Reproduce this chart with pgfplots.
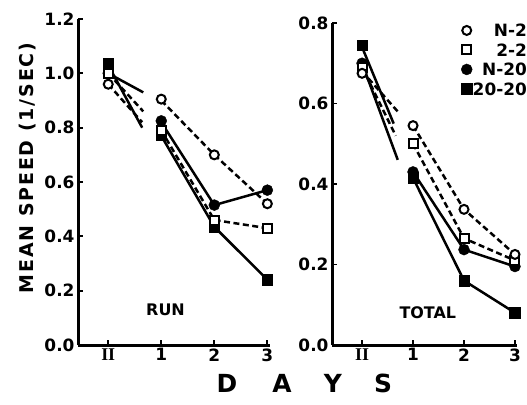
\documentclass[border=0pt]{standalone}
\usepackage{fontspec}
\setmainfont{DejaVu Sans}
\newfontfamily\spaced{DejaVu Sans}[LetterSpace=10]
\newfontfamily\serifb{Liberation Serif}
\usepackage{pgfplots}
\pgfplotsset{compat=1.18}
\pgfplotsset{
  myax/.style={scale only axis, axis lines=left,
    axis line style={-, line width=3bp},
    tick align=inside, major tick length=5bp,
    tick style={line width=1.8bp, black},
    xtick={0,1,2,3}, xticklabels={{\serifb\bfseries\fontsize{18}{18}\selectfont II},1,2,3},
    ticklabel style={font=\bfseries\fontsize{17}{17}\selectfont},
    /pgf/number format/assume math mode=true,
    y tick label style={/pgf/number format/.cd, fixed, fixed zerofill, precision=1},
    clip=false},
  ln/.style={black, line width=2.5bp},
  dsh/.style={black, line width=2.5bp, dash pattern=on 6bp off 3.5bp},
  oc/.style={only marks, mark=*, mark size=4.5bp, mark options={solid, fill=white, draw=black, line width=2bp}},
  os/.style={only marks, mark=square*, mark size=4.5bp, mark options={solid, fill=white, draw=black, line width=2bp}},
  fc/.style={only marks, mark=*, mark size=5.5bp, mark options={solid, fill=black, draw=black}},
  fs/.style={only marks, mark=square*, mark size=5.3bp, mark options={solid, fill=black, draw=black}},
}
\begin{document}
\begin{tikzpicture}[x=1bp,y=1bp]
\useasboundingbox (0,0) rectangle (527,404);
% ---------------- RUN ----------------
\begin{axis}[myax, at={(78bp,59bp)}, anchor=south west,
  width=192bp, height=326bp, xmin=-0.57, xmax=3.05, ymin=0, ymax=1.2,
  ytick={0,0.2,0.4,0.6,0.8,1.0,1.2}]
% break segments from II
\addplot[dsh] coordinates {(0,0.96) (0.64,0.82)};
\addplot[dsh] coordinates {(0,1.00) (0.66,0.86)};
\addplot[ln] coordinates {(0,1.00) (0.66,0.93)};
\addplot[ln] coordinates {(0,1.03) (0.64,0.80)};
% day lines
\addplot[dsh] coordinates {(1,0.90) (2,0.70) (3,0.52)};
\addplot[dsh] coordinates {(1,0.79) (2,0.46) (3,0.43)};
\addplot[ln] coordinates {(1,0.82) (2,0.515) (3,0.57)};
\addplot[ln] coordinates {(1,0.77) (2,0.435) (3,0.24)};
% marks
\addplot[fs] coordinates {(0,1.035) (1,0.775) (2,0.435) (3,0.24)};
\addplot[fc] coordinates {(0,1.00) (1,0.825) (2,0.515) (3,0.57)};
\addplot[os] coordinates {(0,1.00) (1,0.79) (2,0.46) (3,0.43)};
\addplot[oc] coordinates {(0,0.96) (1,0.905) (2,0.70) (3,0.52)};
\node[font=\bfseries\fontsize{16}{16}\selectfont] at (axis cs:1.08,0.13) {RUN};
\end{axis}
% ---------------- TOTAL ----------------
\begin{axis}[myax, at={(332bp,59bp)}, anchor=south west,
  width=185bp, height=322bp, xmin=-0.59, xmax=3.04, ymin=0, ymax=0.8,
  ytick={0,0.2,0.4,0.6,0.8},
  legend style={at={(1.06,1.0)}, anchor=north east, draw=none, fill=none,
    font=\bfseries\fontsize{17}{17}\selectfont, row sep=6bp, inner sep=0.5bp,
    nodes={inner sep=0.5bp, text height=12.5bp, text depth=0bp}},
  legend cell align=right]
\addlegendimage{oc}\addlegendentry{N-2}
\addlegendimage{os}\addlegendentry{2-2}
\addlegendimage{fc}\addlegendentry{N-20}
\addlegendimage{fs}\addlegendentry{20-20}
\addplot[dsh] coordinates {(0,0.68) (0.70,0.58)};
\addplot[dsh] coordinates {(0,0.69) (0.66,0.52)};
\addplot[ln] coordinates {(0,0.70) (0.70,0.46)};
\addplot[ln] coordinates {(0,0.74) (0.62,0.55)};
\addplot[dsh] coordinates {(1,0.545) (2,0.337) (3,0.225)};
\addplot[dsh] coordinates {(1,0.50) (2,0.265) (3,0.21)};
\addplot[ln] coordinates {(1,0.43) (2,0.237) (3,0.195)};
\addplot[ln] coordinates {(1,0.415) (2,0.16) (3,0.08)};
\addplot[fs] coordinates {(0,0.745) (1,0.415) (2,0.16) (3,0.08)};
\addplot[fc] coordinates {(0,0.70) (1,0.43) (2,0.237) (3,0.195)};
\addplot[os] coordinates {(0,0.69) (1,0.50) (2,0.265) (3,0.21)};
\addplot[oc] coordinates {(0,0.675) (1,0.545) (2,0.337) (3,0.225)};
\node[font=\bfseries\fontsize{16}{16}\selectfont] at (axis cs:1.29,0.08) {TOTAL};
\end{axis}
% labels
\node[rotate=90, font=\spaced\bfseries\fontsize{19}{19}\selectfont] at (28,236) {MEAN SPEED (1/SEC)};
\foreach \l/\xx in {D/227,A/282,Y/333,S/383}
  \node[font=\bfseries\fontsize{25}{25}\selectfont] at (\xx,21) {\l};
\end{tikzpicture}
\end{document}
